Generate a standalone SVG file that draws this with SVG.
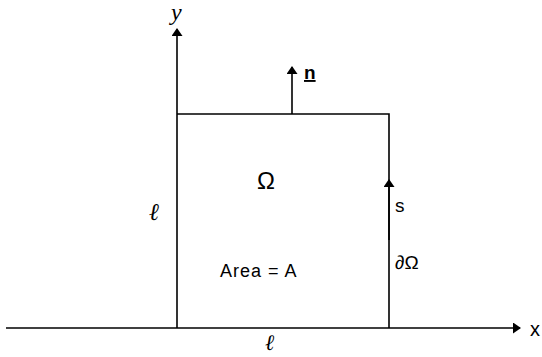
<svg xmlns="http://www.w3.org/2000/svg" width="542" height="357" viewBox="0 0 542 357">
<defs>
<marker id="ah" markerWidth="8" markerHeight="11" refX="7" refY="5.5" orient="auto" markerUnits="userSpaceOnUse"><path d="M0,0 L8,5.5 L0,11 Z" fill="#000"/></marker>
</defs>
<style>
.ln{stroke:#000;stroke-width:1.6;fill:none}
.t{font-family:"Liberation Sans",Arial,sans-serif;font-size:18px;fill:#000}
.i{font-family:"Liberation Serif","Times New Roman",serif;font-style:italic;font-size:24px;fill:#000}
</style>
<rect width="542" height="357" fill="#fff"/>
<g id="connectors">
<line class="ln" x1="6" y1="328" x2="520" y2="328" marker-end="url(#ah)"/>
<line class="ln" x1="177" y1="328" x2="177" y2="29" marker-end="url(#ah)"/>
<line class="ln" x1="292" y1="114" x2="292" y2="67" marker-end="url(#ah)"/>
<line class="ln" x1="389" y1="240" x2="389" y2="180" marker-end="url(#ah)"/>
</g>
<g id="square">
<polyline class="ln" points="177,114 389,114 389,328"/>
</g>
<g id="labels">
<text class="i" x="171" y="20">y</text>
<text class="t" x="530" y="336" style="font-size:20px">x</text>
<text class="t" x="304" y="79" style="font-size:19px;font-weight:bold" text-decoration="underline">n</text>
<text class="t" x="257" y="189" style="font-size:24px">Ω</text>
<text class="i" x="149" y="220">ℓ</text>
<text class="i" x="265" y="350" style="font-size:22px">ℓ</text>
<text class="t" x="220" y="277" style="font-size:18px;letter-spacing:1px">Area = A</text>
<text class="t" x="395" y="212" style="font-size:19px">s</text>
<text class="t" x="395" y="269" style="font-size:19px">∂Ω</text>
</g>
</svg>
